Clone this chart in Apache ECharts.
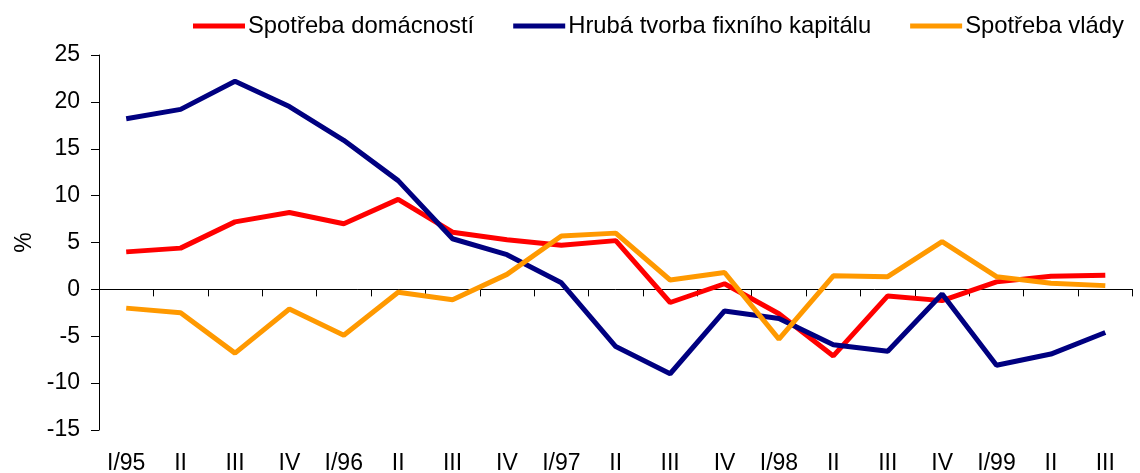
<!DOCTYPE html>
<html>
<head>
<meta charset="utf-8">
<script src="https://cdn.jsdelivr.net/npm/echarts@6/dist/echarts.min.js"></script>
<style>
  html, body { margin: 0; padding: 0; background: #fff; }
  #main { width: 1140px; height: 473px; }
</style>
</head>
<body>
<div id="main"></div>
<script>
// ctvrtleti
var categories = ['I/95', 'II', 'III', 'IV', 'I/96', 'II', 'III', 'IV', 'I/97', 'II', 'III', 'IV', 'I/98', 'II', 'III', 'IV', 'I/99', 'II', 'III'];

var domacnosti = [4.0, 4.4, 7.2, 8.2, 7.0, 9.6, 6.1, 5.3, 4.7, 5.2, -1.4, 0.6, -2.6, -7.1, -0.7, -1.2, 0.8, 1.4, 1.5];
var kapital = [18.2, 19.2, 22.2, 19.5, 15.9, 11.6, 5.4, 3.7, 0.7, -6.1, -9.0, -2.3, -3.1, -5.9, -6.6, -0.5, -8.1, -6.9, -4.6];
var vlada = [-2.0, -2.5, -6.8, -2.1, -4.9, -0.3, -1.1, 1.6, 5.7, 6.0, 1.0, 1.8, -5.3, 1.45, 1.35, 5.1, 1.35, 0.65, 0.4];

var yTicks = { min: -15, max: 25, step: 5 };

var fnt = 'Liberation Sans, Arial, sans-serif';

var myChart = echarts.init(document.getElementById('main'));

function lineSerie(name, data, color) {
    return {
        name: name,
        type: 'line',
        data: data,
        symbol: 'none',
        xAxisIndex: 0,
        lineStyle: { color: color, width: 5 },
        itemStyle: { color: color }
    };
}

var option = {
    animation: false,
    legend: {
        top: 14,
        left: 193,
        width: 945,
        padding: 0,
        itemWidth: 52,
        itemHeight: 5,
        itemGap: 39,
        icon: 'rect',
        textStyle: { fontFamily: fnt, fontSize: 23.8, color: '#000', padding: [0, 0, 0, -2] },
        data: ['Spotřeba domácností', 'Hrubá tvorba fixního kapitálu', 'Spotřeba vlády']
    },
    grid: { left: 99, right: 7.5, top: 55, bottom: 43, outerBoundsMode: 'none' },
    xAxis: [
        {
            type: 'category',
            data: categories,
            position: 'bottom',
            axisLine: { show: false, onZero: false },
            axisTick: { show: false },
            axisLabel: { fontFamily: fnt, fontSize: 23, color: '#000', margin: 22, interval: 0 }
        },
        {
            type: 'category',
            data: categories,
            position: 'bottom',
            axisLine: { onZero: true, lineStyle: { color: '#000', width: 1 } },
            axisTick: { show: true, length: 7, inside: false, lineStyle: { color: '#000' } },
            axisLabel: { show: false }
        }
    ],
    yAxis: {
        type: 'value',
        min: yTicks.min,
        max: yTicks.max,
        interval: yTicks.step,
        name: '%',
        nameLocation: 'middle',
        nameGap: 62,
        nameRotate: 90,
        nameTextStyle: { fontFamily: fnt, fontSize: 23, color: '#000' },
        axisLine: { show: true, onZero: false, lineStyle: { color: '#000', width: 1 } },
        axisTick: { show: true, length: 8, lineStyle: { color: '#000' } },
        axisLabel: { fontFamily: fnt, fontSize: 23, color: '#000', margin: 19 },
        splitLine: { show: false }
    },
    series: [
        lineSerie('Spotřeba domácností', domacnosti, '#ff0000'),
        lineSerie('Hrubá tvorba fixního kapitálu', kapital, '#000080'),
        lineSerie('Spotřeba vlády', vlada, '#ff9900')
    ]
};

myChart.setOption(option);
</script>
</body>
</html>
